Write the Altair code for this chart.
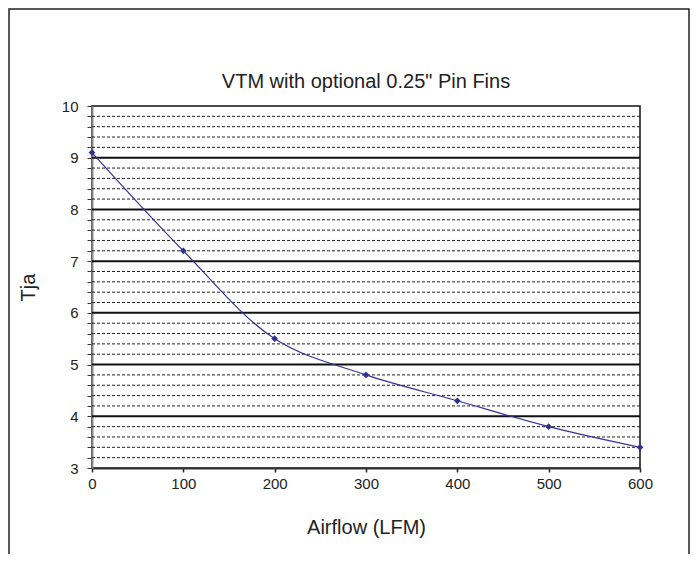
import altair as alt
import pandas as pd

airflow = [0, 100, 200, 300, 400, 500, 600]
tja = [9.1, 7.2, 5.5, 4.8, 4.3, 3.8, 3.4]
x_ticks = [0, 100, 200, 300, 400, 500, 600]
major_grid = [4, 5, 6, 7, 8, 9]
minor_grid = [3.2, 3.4, 3.6, 3.8, 4.2, 4.4, 4.6, 4.8, 5.2, 5.4, 5.6, 5.8,
              6.2, 6.4, 6.6, 6.8, 7.2, 7.4, 7.6, 7.8, 8.2, 8.4, 8.6, 8.8,
              9.2, 9.4, 9.6, 9.8]
y_ticks = sorted([3, 10] + major_grid + minor_grid)

FONT = "Liberation Sans"

df = pd.DataFrame({"x": airflow, "y": tja})
df_major = pd.DataFrame({"y": major_grid})
df_minor = pd.DataFrame({"y": minor_grid})
df_frame = pd.DataFrame({"a": [0]})

Y = alt.Y(
    "y:Q",
    scale=alt.Scale(domain=[3, 10], nice=False, zero=False),
    axis=alt.Axis(
        title="Tja", values=y_ticks,
        labelExpr="abs(datum.value - round(datum.value)) < 0.01 ? format(datum.value, 'd') : ''",
        grid=False, tickSize=5, tickColor="#333", tickWidth=1,
        domainColor="#888", domainWidth=2, labelFlush=False,
        labelFont=FONT, labelFontSize=15, labelColor="#222", labelPadding=9,
        titleFont=FONT, titleFontSize=20, titleFontWeight="normal", titleColor="#222",
        titlePadding=23,
    ),
)
X = alt.X(
    "x:Q",
    scale=alt.Scale(domain=[0, 600], nice=False),
    axis=alt.Axis(
        title="Airflow (LFM)", values=x_ticks, grid=False, tickSize=4,
        tickColor="#222", tickWidth=1.5, domainColor="#333", domainWidth=2,
        labelFlush=False,
        labelFont=FONT, labelFontSize=15, labelColor="#222", labelPadding=4,
        titleFont=FONT, titleFontSize=20, titleFontWeight="normal", titleColor="#222",
        titlePadding=26,
    ),
)

frame = alt.Chart(df_frame).mark_rect(
    fill="transparent", stroke="#222", strokeWidth=1.5
).encode(x=alt.value(-83), x2=alt.value(597), y=alt.value(-97), y2=alt.value(520))

minor = alt.Chart(df_minor).mark_rule(
    color="#222", strokeWidth=1, strokeDash=[3, 2]
).encode(y=Y)

major = alt.Chart(df_major).mark_rule(color="#111", strokeWidth=2).encode(y=Y)

line = alt.Chart(df).mark_line(
    color="#33339a", strokeWidth=1.2, interpolate="catmull-rom"
).encode(x=X, y=Y)

pts = alt.Chart(df).mark_point(
    shape="diamond", filled=True, size=45, color="#2e3192", opacity=1
).encode(x=X, y=Y)

chart = alt.layer(frame, minor, major, line, pts).properties(
    width=548, height=362,
    autosize="none",
    padding={"left": 84, "top": 98, "right": 50, "bottom": 86},
    title=alt.TitleParams(
        'VTM with optional 0.25" Pin Fins', font=FONT, fontSize=20,
        fontWeight="normal", color="#222", anchor="middle", offset=0,
        dy=84, frame="group",
    ),
).configure_view(stroke="#111", strokeWidth=1.5)

chart.save("out.html", embed_options={"renderer": "svg", "actions": False})
